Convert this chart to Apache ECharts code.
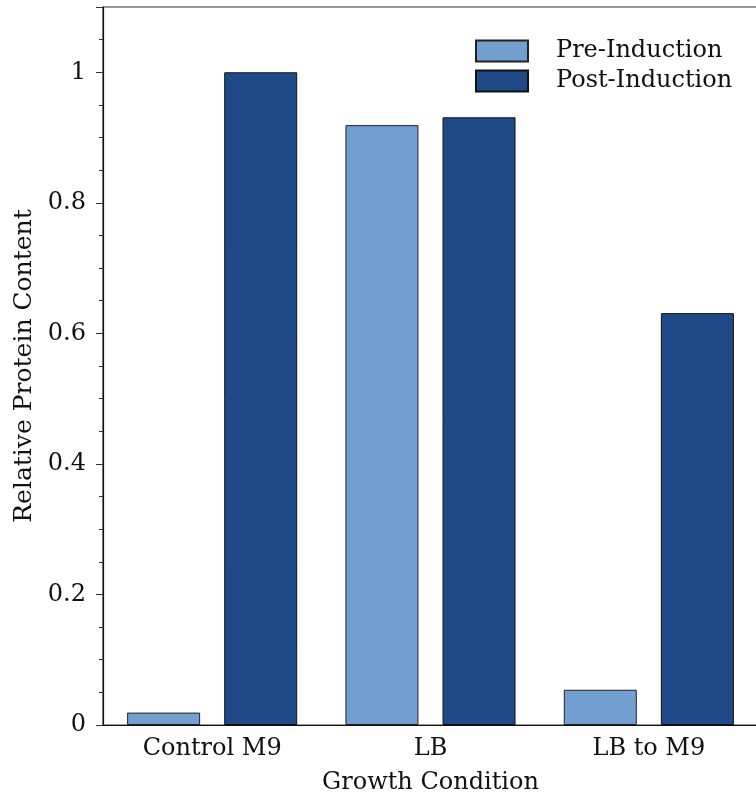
<!DOCTYPE html>
<html><head><meta charset="utf-8">
<script src="https://cdn.jsdelivr.net/npm/echarts@6/dist/echarts.min.js"></script>
<style>html,body{margin:0;padding:0;background:#fff}#c{width:756px;height:797px}</style>
</head><body><div id="c"></div>
<script>
const categories = ['Control M9', 'LB', 'LB to M9'];
const preInduction = [0.019, 0.919, 0.054];
const postInduction = [1.0, 0.931, 0.631];
const seriesNames = ['Pre-Induction', 'Post-Induction'];
const yTicks = [0, 0.2, 0.4, 0.6, 0.8, 1];

const FONT = '"DejaVu Serif", serif';
const FS = 24;
const chart = echarts.init(document.getElementById('c'), null, {renderer: 'canvas'});
chart.setOption({
  animation: false,
  textStyle: {fontFamily: FONT},
  grid: {left: 103, right: -2, top: 7, bottom: 72, outerBoundsMode: 'none', containLabel: false,
         show: true, borderColor: '#333', borderWidth: 1.2, backgroundColor: 'transparent'},
  legend: {
    orient: 'vertical', left: 475, top: 39, padding: 0, itemWidth: 52, itemHeight: 21, itemGap: 6,
    icon: 'rect',
    textStyle: {fontFamily: FONT, fontSize: FS, color: '#111', padding: [0, 0, 0, 23], lineHeight: 21},
    data: seriesNames
  },
  xAxis: {
    type: 'category', data: categories,
    name: 'Growth Condition', nameLocation: 'middle', nameGap: 46,
    nameTextStyle: {fontFamily: FONT, fontSize: FS, color: '#111'},
    axisLine: {lineStyle: {color: '#111', width: 1.2}},
    axisTick: {show: false},
    axisLabel: {fontFamily: FONT, fontSize: FS, color: '#111', margin: 12}
  },
  yAxis: {
    type: 'value', min: 0, max: 1.1, interval: 0.2,
    name: 'Relative Protein Content', nameLocation: 'middle', nameGap: 66,
    nameTextStyle: {fontFamily: FONT, fontSize: 25, color: '#111'},
    axisLine: {show: true, lineStyle: {color: '#111', width: 1.2}},
    axisTick: {show: true, length: 7, lineStyle: {color: '#333'}},
    minorTick: {show: true, splitNumber: 4, length: 4, lineStyle: {color: '#333'}},
    splitLine: {show: false},
    axisLabel: {fontFamily: FONT, fontSize: FS, color: '#111', margin: 17,
      formatter: v => (yTicks.some(t => Math.abs(t - v) < 1e-9) ? String(+v.toFixed(2)) : '')}
  },
  series: [
    {name: seriesNames[0], type: 'bar', data: preInduction, barWidth: 73, barGap: '33%',
     itemStyle: {color: '#729FCF', borderColor: '#222', borderWidth: 1}},
    {name: seriesNames[1], type: 'bar', data: postInduction, barWidth: 73, barGap: '33%',
     itemStyle: {color: '#204A87', borderColor: '#111', borderWidth: 1}}
  ]
});
</script></body></html>
